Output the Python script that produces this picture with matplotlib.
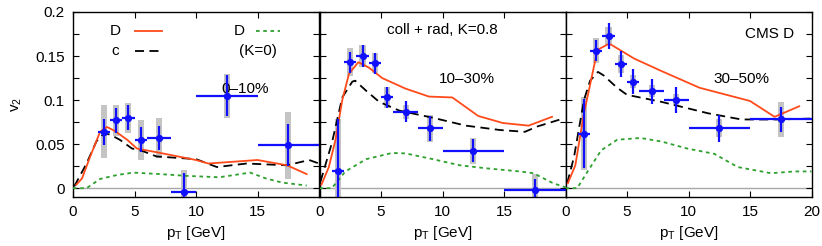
import numpy as np
import matplotlib.pyplot as plt

plt.rcParams['font.family'] = ['Liberation Sans', 'DejaVu Sans']
plt.rcParams['font.size'] = 11

# CMS D0 data, pT bin centers and half widths
pt = [1.5, 2.5, 3.5, 4.5, 5.5, 7.0, 9.0, 12.5, 17.5]
pt_err = [0.5, 0.5, 0.5, 0.5, 0.5, 1.0, 1.0, 2.5, 2.5]

# 0-10% (no point in the first bin)
v2_c1 = [None, 0.064, 0.077, 0.080, 0.055, 0.057, -0.0045, 0.105, 0.049]
stat_c1 = [None, 0.015, 0.014, 0.0145, 0.014, 0.014, 0.022, 0.023, 0.024]
sys_c1 = [None, 0.030, 0.018, 0.017, 0.0225, 0.023, 0.025, 0.025, 0.038]

# 10-30%
v2_c2 = [0.019, 0.143, 0.150, 0.142, 0.103, 0.087, 0.068, 0.0425, -0.002]
stat_c2 = [0.060, 0.012, 0.012, 0.012, 0.012, 0.012, 0.014, 0.013, 0.012]
sys_c2 = [0.060, 0.016, 0.012, 0.011, 0.012, 0.008, 0.015, 0.015, 0.018]

# 30-50%
v2_c3 = [0.062, 0.156, 0.173, 0.141, 0.121, 0.110, 0.100, 0.068, 0.078]
stat_c3 = [0.039, 0.012, 0.0145, 0.0147, 0.014, 0.014, 0.0145, 0.015, 0.0145]
sys_c3 = [0.041, 0.014, 0.010, 0.010, 0.007, 0.007, 0.007, 0.010, 0.020]

# model curves: D meson (coll+rad), charm quark, D meson with K=0
D_x1 = [0.27, 0.73, 1.4, 2.2, 2.76, 3.4, 4.4, 5.2, 7.1, 10.0, 11.0, 15.0, 17.4, 19.0]
D_y1 = [0.004, 0.011, 0.036, 0.064, 0.0695, 0.065, 0.055, 0.045, 0.040, 0.032, 0.028, 0.032, 0.026, 0.016]
c_x1 = [0.1, 1.1, 1.9, 2.5, 3.0, 3.8, 4.8, 5.5, 6.8, 10.0, 11.7, 14.1, 17.4, 19.2, 20.0]
c_y1 = [0.002, 0.028, 0.053, 0.062, 0.061, 0.055, 0.045, 0.043, 0.036, 0.033, 0.024, 0.028, 0.026, 0.032, 0.028]
K0_x1 = [0.0, 1.1, 2.2, 3.6, 4.9, 7.1, 9.2, 11.9, 14.4, 15.7, 17.0, 19.0]
K0_y1 = [0.0, 0.0, 0.0105, 0.015, 0.0177, 0.016, 0.014, 0.0124, 0.0177, 0.011, 0.0064, 0.003]

D_x2 = [0.16, 0.76, 1.3, 1.85, 2.4, 3.16, 4.0, 5.1, 7.0, 8.9, 10.8, 12.9, 14.9, 17.0, 18.9]
D_y2 = [0.004, 0.024, 0.055, 0.100, 0.130, 0.143, 0.137, 0.125, 0.113, 0.104, 0.103, 0.082, 0.074, 0.071, 0.081]
c_x2 = [0.08, 1.0, 1.85, 2.67, 2.9, 3.76, 4.85, 6.5, 9.2, 11.9, 14.7, 16.7, 17.7, 19.8]
c_y2 = [0.0075, 0.051, 0.103, 0.121, 0.122, 0.111, 0.098, 0.088, 0.080, 0.071, 0.066, 0.064, 0.070, 0.079]
K0_x2 = [0.0, 1.0, 2.1, 3.8, 5.9, 7.0, 9.2, 11.4, 13.6, 16.3, 17.4, 19.0, 20.0]
K0_y2 = [0.0, 0.0, 0.019, 0.033, 0.040, 0.0395, 0.033, 0.026, 0.0225, 0.019, 0.017, 0.0056, 0.001]

D_x3 = [0.19, 0.8, 1.5, 1.9, 2.6, 3.4, 3.7, 5.6, 7.8, 10.9, 15.0, 17.0, 19.0]
D_y3 = [0.0056, 0.026, 0.085, 0.111, 0.157, 0.163, 0.163, 0.147, 0.133, 0.114, 0.099, 0.081, 0.093]
c_x3 = [0.14, 0.7, 1.5, 2.0, 2.64, 3.1, 4.2, 5.0, 7.8, 11.6, 14.3, 17.3, 19.9]
c_y3 = [0.0056, 0.036, 0.100, 0.122, 0.132, 0.128, 0.114, 0.106, 0.098, 0.085, 0.078, 0.078, 0.079]
K0_x3 = [0.0, 0.95, 1.8, 2.9, 4.2, 6.1, 7.8, 9.9, 12.1, 14.0, 16.7, 18.6, 20.0]
K0_y3 = [0.0, 0.0, 0.019, 0.043, 0.055, 0.057, 0.053, 0.045, 0.039, 0.024, 0.017, 0.019, 0.019]

panels = [
    (v2_c1, stat_c1, sys_c1, (D_x1, D_y1), (c_x1, c_y1), (K0_x1, K0_y1), '0\u201310%'),
    (v2_c2, stat_c2, sys_c2, (D_x2, D_y2), (c_x2, c_y2), (K0_x2, K0_y2), '10\u201330%'),
    (v2_c3, stat_c3, sys_c3, (D_x3, D_y3), (c_x3, c_y3), (K0_x3, K0_y3), '30\u201350%'),
]
cent_pos = [(14.0, 0.113), (12.0, 0.124), (14.3, 0.124)]

red = '#ff4a1a'
green = '#2ea02e'
blue = '#1010ff'

fig = plt.figure(figsize=(8.22, 2.46), dpi=100)
W, H = 822.0, 246.0
lefts = [73, 319.5, 565.5]
pw = 246.0

axes = []
for i, (v2, stat, sys, D, c, K0, cent) in enumerate(panels):
    ax = fig.add_axes([lefts[i] / W, 49 / H, pw / W, 185 / H])
    axes.append(ax)
    ax.set_xlim(0, 20)
    ax.set_ylim(-0.01, 0.2)
    ax.axhline(0, color='#a8a8a8', lw=1.0, zorder=1)

    for x, xe, y, se, ye in zip(pt, pt_err, v2, stat, sys):
        if y is None:
            continue
        ax.add_patch(plt.Rectangle((x - 0.25, y - ye), 0.5, 2 * ye,
                                   facecolor='#c4c4c4', edgecolor='none', zorder=2))
        ax.errorbar(x, y, xerr=xe, yerr=se, fmt='o', color=blue, ms=4.2,
                    elinewidth=1.6, capsize=0, zorder=5)

    ax.plot(*K0, color=green, lw=1.3, ls=(0, (2, 2)), zorder=3)
    ax.plot(*c, color='black', lw=1.3, ls=(0, (5, 3)), zorder=3)
    ax.plot(*D, color=red, lw=1.3, zorder=4)

    ax.text(cent_pos[i][0], cent_pos[i][1], cent, ha='center', va='center')
    ax.set_xlabel('p$_\\mathregular{T}$ [GeV]', labelpad=3)

    ax.set_xticks([0, 5, 10, 15, 20])
    yt = np.arange(0, 0.2001, 0.025)
    ax.set_yticks(yt)
    if i == 0:
        ax.set_yticklabels(['0' if k == 0 else ('%g' % t if k % 2 == 0 else '')
                            for k, t in enumerate(yt)])
        ax.set_xticklabels(['0', '5', '10', '15', ''])
        ax.set_ylabel('v$_\\mathregular{2}$', labelpad=8)
    else:
        ax.set_yticklabels([])
        if i == 1:
            ax.set_xticklabels(['0', '5', '10', '15', ''])
    ax.tick_params(direction='in', top=True, right=True, length=4, width=0.8, pad=6)
    for s in ax.spines.values():
        s.set_linewidth(1.0)

# legend in first panel
a0 = axes[0]
a0.text(3.4, 0.178, 'D', ha='center', va='center')
a0.plot([5.0, 7.2], [0.178, 0.178], color=red, lw=1.3)
a0.text(3.4, 0.156, 'c', ha='center', va='center')
a0.plot([5.0, 7.2], [0.156, 0.156], color='black', lw=1.3, ls=(0, (5, 3)))
a0.text(13.5, 0.178, 'D', ha='center', va='center')
a0.plot([14.9, 16.8], [0.178, 0.178], color=green, lw=1.3, ls=(0, (2, 2)))
a0.text(15.0, 0.156, '(K=0)', ha='center', va='center')

axes[1].text(9.95, 0.179, 'coll + rad, K=0.8', ha='center', va='center')
axes[2].text(16.6, 0.175, 'CMS D', ha='center', va='center')

fig.savefig('out.png', dpi=100)
